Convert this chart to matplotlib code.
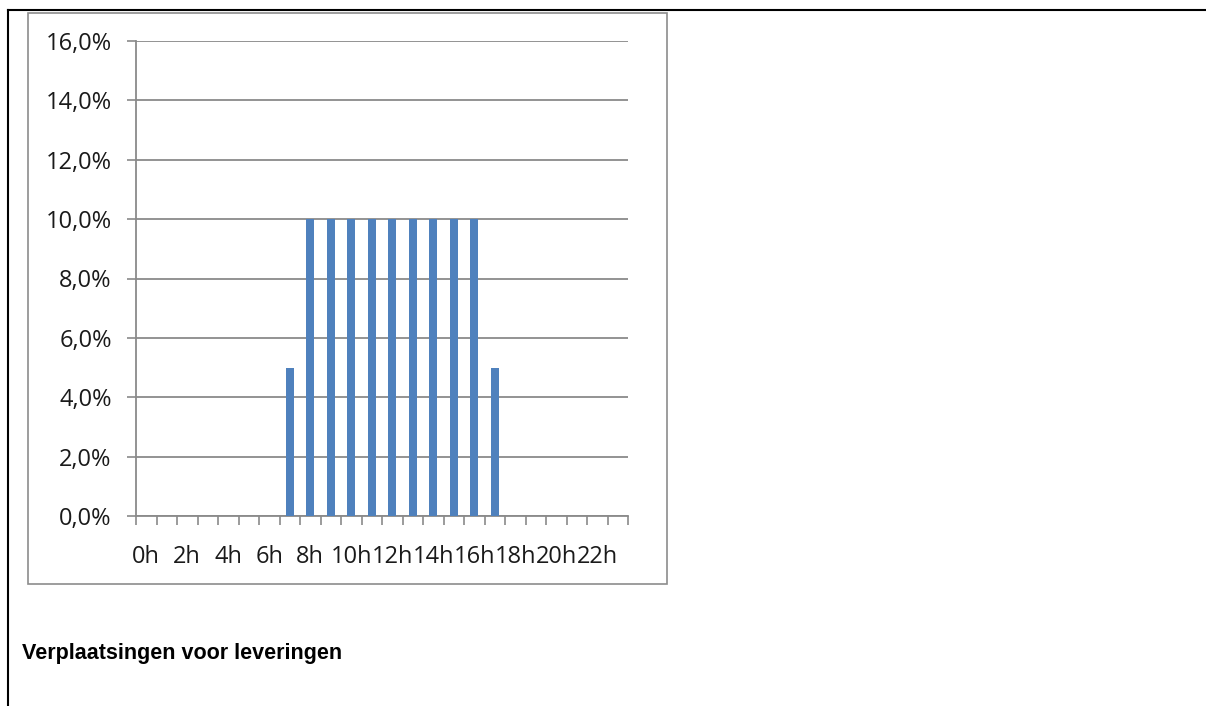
import matplotlib
matplotlib.use("Agg")
import matplotlib.pyplot as plt
from matplotlib.lines import Line2D
from matplotlib.patches import Rectangle
from matplotlib.ticker import FuncFormatter, MultipleLocator

# Hourly share of delivery trips
hours = [f"{h}h" for h in range(24)]
shares = [0, 0, 0, 0, 0, 0, 0, 5, 10, 10, 10, 10, 10, 10, 10, 10, 10, 5,
          0, 0, 0, 0, 0, 0]
caption = "Verplaatsingen voor leveringen"

W, H = 1206, 706
fig = plt.figure(figsize=(W / 100, H / 100), dpi=100)
fig.patch.set_facecolor("white")


def fx(px):
    return px / W


def fy(py):
    return 1 - py / H


# Page frame lines (top and left)
fig.add_artist(Line2D([fx(8), fx(1206)], [fy(10), fy(10)], color="black", lw=1.5,
                      transform=fig.transFigure))
fig.add_artist(Line2D([fx(8), fx(8)], [fy(10), fy(706)], color="black", lw=1.5,
                      transform=fig.transFigure))

# Chart area border
fig.add_artist(Rectangle((fx(28), fy(584)), fx(667) - fx(28), fy(13) - fy(584),
                         transform=fig.transFigure, fill=False,
                         edgecolor="#8c8c8c", lw=1.2))

ax = fig.add_axes([fx(136), fy(516), fx(628) - fx(136), fy(41) - fy(516)])
x = list(range(len(hours)))
ax.bar(x, shares, width=0.38, color="#4f81bd", zorder=3)

ax.set_xlim(-0.5, len(hours) - 0.5)
ax.set_ylim(0, 16)
ax.yaxis.set_major_locator(MultipleLocator(2))
ax.yaxis.set_major_formatter(FuncFormatter(lambda v, p: f"{v:.1f}%".replace(".", ",")))
ax.grid(axis="y", color="#8a8a8a", lw=1.3, zorder=1)

# Category boundary ticks on x, labels every second hour
ax.set_xticks([i - 0.5 for i in range(len(hours) + 1)], minor=False)
ax.set_xticklabels([])
ax.set_xticks(x[::2], minor=True)
ax.set_xticklabels(hours[::2], minor=True)
ax.tick_params(axis="x", which="major", length=6.5, width=1.2, color="#8a8a8a",
               direction="out")
ax.tick_params(axis="x", which="minor", length=0, pad=21, labelsize=17)
ax.tick_params(axis="y", length=6.5, width=1.2, color="#8a8a8a", labelsize=17, pad=11)

for lab in ax.get_xticklabels(minor=True) + ax.get_yticklabels():
    lab.set_family("Open Sans")
    lab.set_color("#1a1a1a")

for side in ("top", "right"):
    ax.spines[side].set_visible(False)
for side in ("left", "bottom"):
    ax.spines[side].set_color("#8a8a8a")
    ax.spines[side].set_linewidth(1.3)

fig.text(fx(22), fy(653), caption, fontsize=15.5, fontweight="bold",
         family="Liberation Sans", va="center", ha="left", color="black")

fig.savefig("out.png", dpi=100, facecolor="white")
